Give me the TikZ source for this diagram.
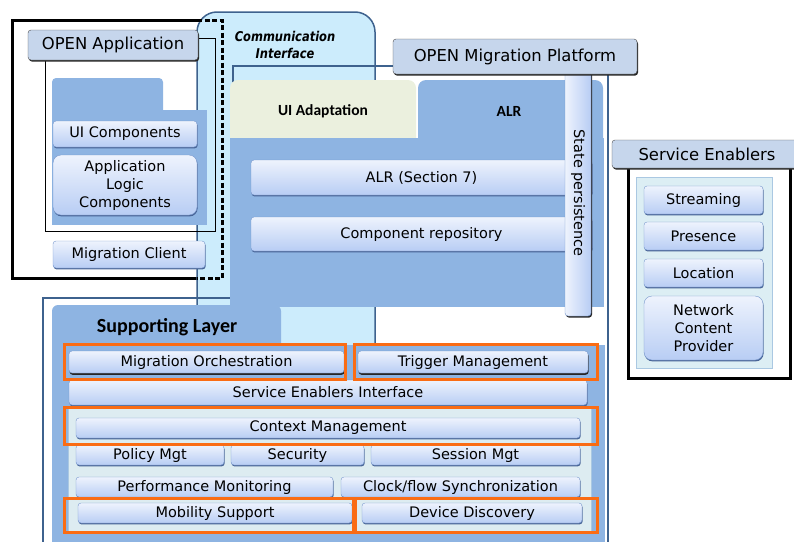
\documentclass[tikz,border=0pt]{standalone}
\usepackage{fontspec}
\setmainfont{DejaVu Sans}
\newfontfamily\carlito{Carlito}
\usetikzlibrary{shadows}
\definecolor{commblue}{RGB}{204,236,252}
\definecolor{frameblue}{RGB}{62,98,142}
\definecolor{midblue}{RGB}{142,180,226}
\definecolor{labelfill}{RGB}{198,214,236}
\definecolor{btntop}{RGB}{238,243,253}
\definecolor{btnbot}{RGB}{184,205,244}
\definecolor{btnedge}{RGB}{118,150,204}
\definecolor{btnshadow}{RGB}{72,100,150}
\definecolor{uiadapt}{RGB}{235,240,222}
\definecolor{panelc}{RGB}{221,236,241}
\definecolor{hiorange}{RGB}{250,108,20}
\definecolor{sepanel}{RGB}{220,238,244}
\definecolor{sepaneledge}{RGB}{170,200,226}
\tikzset{
  btnbase/.style={draw=btnedge, top color=btntop, bottom color=btnbot, rounded corners=3pt, inner sep=0pt, align=center, font=\fontsize{14.5}{18}\selectfont},
  btn/.style={btnbase, general shadow={fill=btnshadow, shadow xshift=0.6pt, shadow yshift=-1.4pt}},
  btndark/.style={btnbase, general shadow={fill=black!85, shadow xshift=0.6pt, shadow yshift=-1.8pt}},
  lbl/.style={draw=black!70, fill=labelfill, rounded corners=3pt, inner sep=0pt, font=\fontsize{16.4}{19}\selectfont, general shadow={fill=black!85, shadow xshift=1pt, shadow yshift=-1.6pt}},
  hilite/.style={draw=hiorange, line width=3pt, inner sep=0pt},
  tabtxt/.style={font=\carlito\bfseries\fontsize{15.5}{18}\selectfont},
}
% #1 style, #2 name, #3 x1, #4 y1, #5 x2, #6 y2, #7 text
\newcommand\bnode[7]{%
  \pgfmathsetmacro\bnw{#5-#3}\pgfmathsetmacro\bnh{#6-#4}%
  \node[#1, minimum width=\bnw pt, minimum height=\bnh pt] (#2) at ({(#3+#5)/2},{(#4+#6)/2+1}) {#7};}
\begin{document}
\begin{tikzpicture}[x=1pt,y=-1pt]
\useasboundingbox (0,0) rectangle (794,541);
% OPEN Application outer frame (solid part)
\draw[line width=3pt] (12,20) rectangle (222,278);
% Communication interface
\draw[draw=frameblue, fill=commblue, line width=1.5pt, rounded corners=20pt] (197,346) -- (197,12) -- (375,12) -- (375,346);
\node[font=\bfseries\itshape\fontsize{13.5}{17}\selectfont, align=center, xscale=0.85, transform shape] (commtxt) at (285,45) {Communication\\Interface};
% dashed part of the application frame
\draw[line width=3pt, dash pattern=on 5pt off 2.5pt] (197,20) -- (222,20) -- (222,278) -- (197,278);
\draw[line width=1pt] (45,38) rectangle (215,231);
% platform frame
\draw[frameblue, line width=2.5pt] (43,550) -- (43,298) -- (233,298) -- (233,66) -- (608,66) -- (608,550);

% Supporting layer
\fill[midblue, rounded corners=6pt] (52,350) -- (52,305) -- (281,305) -- (281,350);
\node[font=\carlito\bfseries\fontsize{20}{24}\selectfont] (sltxt) at (167,327) {Supporting Layer};
\fill[midblue] (52,345) rectangle (605,550);
\draw[draw=sepaneledge, fill=panelc] (68,407) rectangle (591,532);

\bnode{btndark}{mo}{69}{350}{344}{372}{Migration Orchestration}
\bnode{btndark}{tm}{358}{350}{588}{372}{Trigger Management}
\bnode{btn}{sei}{69}{379}{587}{404}{Service Enablers Interface}
\bnode{btn}{cm}{76}{417}{580}{437}{Context Management}
\bnode{btn}{pm}{76}{444}{224}{464}{Policy Mgt}
\bnode{btn}{sec}{231}{444}{364}{464}{Security}
\bnode{btn}{sm}{371}{444}{580}{464}{Session Mgt}
\bnode{btn}{perf}{76}{476}{333}{496}{Performance Monitoring}
\bnode{btn}{clk}{341}{476}{580}{496}{Clock/flow Synchronization}
\bnode{btn}{mob}{78}{502}{352}{522}{Mobility Support}
\bnode{btn}{dd}{362}{502}{582}{522}{Device Discovery}

\bnode{hilite}{hmo}{64}{343}{345}{378}{}
\bnode{hilite}{htm}{354}{343}{597}{378}{}
\bnode{hilite}{hcm}{64}{406}{597}{443}{}
\bnode{hilite}{hmob}{64}{497}{355}{531}{}
\bnode{hilite}{hdd}{353}{497}{597}{531}{}

% Platform upper part
\fill[uiadapt, rounded corners=8pt] (230,140) -- (230,80) -- (416,80) -- (416,140);
\node[tabtxt] (uitxt) at (323,111) {UI Adaptation};
\fill[midblue, rounded corners=8pt] (418,140) -- (418,80) -- (603,80) -- (603,140);
\node[tabtxt] (alrtxt) at (509,111) {ALR};
\fill[midblue] (230,138) rectangle (604,307);
\bnode{btn}{alr}{251}{159}{592}{194}{ALR (Section 7)}
\bnode{btn}{crep}{251}{216}{592}{250}{Component repository}
\bnode{btnbase, left color=btntop, right color=btnbot, general shadow={fill=black!85, shadow xshift=1pt, shadow yshift=-1.6pt}}{sp}{565}{69}{591}{315}{}
\node[font=\fontsize{14.5}{18}\selectfont, rotate=-90] (sptxt) at (sp.center) {State persistence};
\bnode{lbl}{omp}{393}{38}{637}{73}{OPEN Migration Platform}

% OPEN Application
\bnode{lbl}{oa}{28}{29}{198}{59}{OPEN Application}
\fill[midblue, rounded corners=4pt] (52,112) -- (52,78) -- (163,78) -- (163,112);
\fill[midblue] (52,110) rectangle (207,225);
\bnode{btn}{uic}{53}{120}{197}{146}{UI Components}
\bnode{btn, rounded corners=8pt}{alc}{53}{154}{197}{214}{Application\\Logic\\Components}
\bnode{btn}{mc}{53}{240}{205}{267}{Migration Client}

% Service Enablers
\draw[line width=3pt] (628,150) rectangle (790,378);
\draw[draw=sepaneledge, fill=sepanel] (636,177) rectangle (772,368);
\bnode{lbl}{se}{612}{139}{802}{167}{Service Enablers}
\bnode{btn}{str}{644}{185}{763}{213}{Streaming}
\bnode{btn}{pres}{644}{221}{763}{249}{Presence}
\bnode{btn}{loc}{644}{258}{763}{286}{Location}
\bnode{btn, rounded corners=8pt}{ncp}{644}{295}{763}{359}{Network\\Content\\Provider}
\end{tikzpicture}
\end{document}
